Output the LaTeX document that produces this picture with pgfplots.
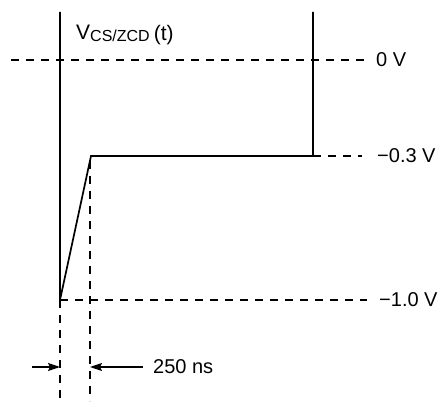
\documentclass[border=0pt]{standalone}
\usepackage{pgfplots}
\pgfplotsset{compat=1.18}
\usepackage{fontspec}
\setmainfont{Liberation Sans}
\usetikzlibrary{arrows.meta}
\newcommand{\lbl}{\fontsize{20bp}{24bp}\selectfont}
\begin{document}
\begin{tikzpicture}
\begin{axis}[hide axis, scale only axis, width=442bp, height=401bp,
  xmin=0, xmax=442, ymin=0, ymax=401, clip=false]
\path (axis cs:0,0) rectangle (axis cs:442,401);
% waveform
\addplot[black, line width=1.7bp, line join=miter] coordinates {(60,389) (60,101) (91,245) (313,245) (313,389)};
% dashed reference lines
\addplot[black, line width=1.4bp, dash pattern=on 8bp off 7bp] coordinates {(11,341) (364,341)};
\addplot[black, line width=1.4bp, dash pattern=on 8bp off 7bp] coordinates {(313,245) (362,245)};
\addplot[black, line width=1.4bp, dash pattern=on 8bp off 7bp] coordinates {(60,101) (367,101)};
\addplot[black, line width=1.4bp, dash pattern=on 8bp off 7bp] coordinates {(60,101) (60,0)};
\addplot[black, line width=1.4bp, dash pattern=on 8bp off 7bp] coordinates {(90,240) (90,0)};
% arrows
\addplot[black, line width=1.5bp, -{Stealth[length=12bp, width=8bp, inset=2bp]}] coordinates {(32,34) (60,34)};
\addplot[black, line width=1.5bp, -{Stealth[length=12bp, width=8bp, inset=2bp]}] coordinates {(143,34) (90,34)};
% labels
\node[anchor=west, inner sep=0pt, font=\lbl] at (axis cs:376,341) {0 V};
\node[anchor=west, inner sep=0pt, font=\lbl] at (axis cs:377,245) {−0.3 V};
\node[anchor=west, inner sep=0pt, font=\lbl] at (axis cs:379,101) {−1.0 V};
\node[anchor=west, inner sep=0pt, font=\lbl] at (axis cs:153,34) {250 ns};
\node[anchor=base west, inner sep=0pt, font=\fontsize{21bp}{25bp}\selectfont] at (axis cs:76,361) {V\raisebox{-2bp}{\fontsize{16bp}{18bp}\selectfont CS/ZCD}\kern4bp\raisebox{-1bp}{(t)}};
\end{axis}
\end{tikzpicture}
\end{document}
